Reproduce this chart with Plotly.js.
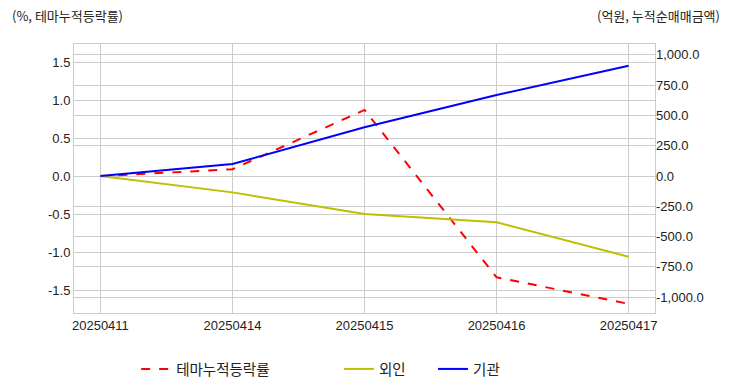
<!DOCTYPE html>
<html>
<head>
<meta charset="utf-8">
<script src="https://cdn.plot.ly/plotly-3.0.1.min.js"></script>
<style>html,body{margin:0;padding:0;background:#fff;}#chart{width:732px;height:392px;}</style>
</head>
<body>
<div id="chart"></div>
<script>
const dates = ["20250411", "20250414", "20250415", "20250416", "20250417"];
const themeReturn = [0.0, 0.09, 0.87, -1.33, -1.68];
const foreign = [0.0, -135, -314, -382, -666];
const institution = [0.0, 99, 402, 668, 910];
const leftTicks = [-1.5, -1.0, -0.5, 0.0, 0.5, 1.0, 1.5];
const rightTicks = [-1000, -750, -500, -250, 0, 250, 500, 750, 1000];
const seriesNames = ["테마누적등락률", "외인", "기관"];
const leftTitle = "(%, 테마누적등락률)";
const rightTitle = "(억원, 누적순매매금액)";

function fmtLeft(v){ return v.toFixed(1); }
function fmtRight(v){
  const s = Math.abs(v).toFixed(1).replace(/\B(?=(\d{3})+(?!\d))/g, ",");
  return (v < 0 ? "-" : "") + s;
}

const FONT = "'Liberation Sans', Arial, sans-serif";
const KFONT = "'Noto Sans CJK KR', 'Noto Sans', sans-serif";

const traces = [
  {x: dates, y: themeReturn, name: seriesNames[0], type: "scatter", mode: "lines",
   line: {color: "#ff0000", width: 2, dash: "dash"}, yaxis: "y", legend: "legend"},
  {x: dates, y: foreign, name: seriesNames[1], type: "scatter", mode: "lines",
   line: {color: "#bfbf00", width: 2}, yaxis: "y2", legend: "legend2"},
  {x: dates, y: institution, name: seriesNames[2], type: "scatter", mode: "lines",
   line: {color: "#0000ff", width: 2}, yaxis: "y2", legend: "legend3"}
];

const legendBase = {
  orientation: "h", xanchor: "left", yref: "container", y: 0.0587, yanchor: "middle",
  font: {family: KFONT, size: 14.5, color: "#222"}, bgcolor: "rgba(0,0,0,0)"
};

const layout = {
  width: 732, height: 392,
  margin: {l: 74, r: 77, t: 44, b: 79},
  paper_bgcolor: "#ffffff", plot_bgcolor: "#ffffff",
  font: {family: FONT, size: 13, color: "#222"},
  showlegend: true,
  xaxis: {
    type: "category", range: [-0.2, 4.2],
    showgrid: true, gridcolor: "#cccccc", gridwidth: 1,
    showline: true, linecolor: "#cccccc", linewidth: 1, mirror: true,
    ticks: "", tickfont: {size: 13, color: "#222"}, zeroline: false
  },
  yaxis: {
    range: [-1.80, 1.737],
    tickvals: leftTicks, ticktext: leftTicks.map(fmtLeft),
    showgrid: true, gridcolor: "#cccccc", gridwidth: 1,
    showline: true, linecolor: "#cccccc", linewidth: 1, mirror: true,
    zeroline: false, ticks: "", tickfont: {size: 13, color: "#222"}
  },
  yaxis2: {
    overlaying: "y", side: "right",
    range: [-1130, 1089],
    tickvals: rightTicks, ticktext: rightTicks.map(fmtRight),
    showgrid: true, gridcolor: "#cccccc", gridwidth: 1,
    showline: false, zeroline: false, ticks: "", tickfont: {size: 13, color: "#222"}
  },
  legend: Object.assign({}, legendBase, {x: 0.107}),
  legend2: Object.assign({}, legendBase, {x: 0.456}),
  legend3: Object.assign({}, legendBase, {x: 0.618}),
  annotations: [
    {text: leftTitle, xref: "paper", yref: "paper", x: -0.111, y: 1.105,
     xanchor: "left", yanchor: "middle", showarrow: false, font: {family: KFONT, size: 13, color: "#222"}},
    {text: rightTitle, xref: "paper", yref: "paper", x: 1.115, y: 1.105,
     xanchor: "right", yanchor: "middle", showarrow: false, font: {family: KFONT, size: 13, color: "#222"}}
  ]
};

Plotly.newPlot("chart", traces, layout, {displayModeBar: false, staticPlot: true});
</script>
</body>
</html>
